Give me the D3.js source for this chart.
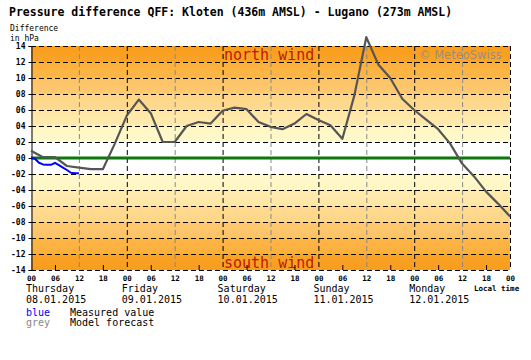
<!DOCTYPE html>
<html>
<head>
<meta charset="utf-8">
<script src="https://cdn.jsdelivr.net/npm/d3@7"></script>
<style>
  body { margin: 0; background: #fff; }
  svg { display: block; }
  text { font-family: "DejaVu Sans Mono", monospace; }
</style>
</head>
<body>
<div id="chart"></div>
<script>
// hours since Thursday 08.01.2015 00:00, model every 3 h
const modelHours = d3.range(0, 121, 3);
const modelValues = [0.9, 0.1, 0.1, -1.0, -1.2, -1.4, -1.4, 1.8, 5.3, 7.3,
  5.6, 2.0, 2.0, 4.0, 4.5, 4.3, 5.9, 6.3, 6.1, 4.5,
  3.9, 3.6, 4.3, 5.5, 4.75, 4.1, 2.4, 7.8, 15.1, 11.7,
  10.0, 7.4, 6.0, 4.8, 3.6, 1.8, -0.7, -2.3, -4.2, -5.7, -7.3];

// measured, hourly
const measuredHours = d3.range(0, 13);
const measuredValues = [0.0, -0.1, -0.6, -0.8, -0.85, -0.85, -0.6, -0.9, -1.2, -1.5, -1.85, -1.9, -1.9];

const dayNames = ["Thursday", "Friday", "Saturday", "Sunday", "Monday"];
const dayDates = ["08.01.2015", "09.01.2015", "10.01.2015", "11.01.2015", "12.01.2015"];
const hourTicks = d3.range(0, 121, 6);
const yTicks = d3.range(-14, 15, 2);

// band colours from |value| 2..14 (colour near zero, colour away from zero)
const bandColors = [
  ["#fff9cc", "#fff6c4"],
  ["#ffebb0", "#ffe6a4"],
  ["#fedb92", "#fed686"],
  ["#fdc972", "#fdc365"],
  ["#fcb748", "#fcaf3a"],
  ["#faa428", "#f99c1b"]
];

const W = 531, H = 360;
const svg = d3.select("#chart").append("svg")
  .attr("width", W).attr("height", H);

const x = d3.scaleLinear().domain([0, 120]).range([31, 510]);
const y = d3.scaleLinear().domain([-14, 14]).range([270, 46]);

// bands with a slight gradient
const defs = svg.append("defs");
bandColors.forEach((c, i) => {
  const lo = 2 + i * 2;
  // positive band: far colour on top
  let g = defs.append("linearGradient").attr("id", "gp" + i)
    .attr("x1", 0).attr("y1", 0).attr("x2", 0).attr("y2", 1);
  g.append("stop").attr("offset", 0).attr("stop-color", c[1]);
  g.append("stop").attr("offset", 1).attr("stop-color", c[0]);
  svg.append("rect")
    .attr("x", x(0)).attr("width", x(120) - x(0))
    .attr("y", y(lo + 2)).attr("height", y(lo) - y(lo + 2))
    .attr("fill", "url(#gp" + i + ")");
  // negative band: far colour at bottom
  g = defs.append("linearGradient").attr("id", "gn" + i)
    .attr("x1", 0).attr("y1", 0).attr("x2", 0).attr("y2", 1);
  g.append("stop").attr("offset", 0).attr("stop-color", c[0]);
  g.append("stop").attr("offset", 1).attr("stop-color", c[1]);
  svg.append("rect")
    .attr("x", x(0)).attr("width", x(120) - x(0))
    .attr("y", y(-lo)).attr("height", y(-lo - 2) - y(-lo))
    .attr("fill", "url(#gn" + i + ")");
});

// wind labels + watermark
svg.append("text").attr("x", 224).attr("y", 60)
  .attr("font-size", 15).attr("fill", "#b81c08").text("north wind");
svg.append("text").attr("x", 224).attr("y", 268)
  .attr("font-size", 15).attr("fill", "#b81c08").text("south wind");
svg.append("text").attr("x", 419).attr("y", 59)
  .style("font-family", "'DejaVu Sans', sans-serif")
  .attr("font-size", 11.5).attr("fill", "#8a8a8a").attr("fill-opacity", 0.85)
  .text("© MeteoSwiss");

// horizontal grid
svg.append("g").selectAll("line")
  .data(yTicks.filter(d => d !== 0))
  .join("line")
  .attr("x1", x(0)).attr("x2", x(120))
  .attr("y1", d => y(d) + 0.5).attr("y2", d => y(d) + 0.5)
  .attr("stroke", "#000").attr("stroke-dasharray", "5,3");

// vertical grid: black at 00, grey at 12
svg.append("g").selectAll("line")
  .data(d3.range(12, 121, 12))
  .join("line")
  .attr("x1", d => x(d) + 0.5).attr("x2", d => x(d) + 0.5)
  .attr("y1", y(14)).attr("y2", y(-14))
  .attr("stroke", d => d % 24 === 0 ? "#000" : "#888")
  .attr("stroke-dasharray", "5,3");

// small ticks at 06 / 18
svg.append("g").selectAll("line")
  .data(hourTicks.filter(d => d % 12 === 6))
  .join("line")
  .attr("x1", d => x(d) + 0.5).attr("x2", d => x(d) + 0.5)
  .attr("y1", y(-14) - 5).attr("y2", y(-14))
  .attr("stroke", "#000");

// zero line
svg.append("line")
  .attr("x1", x(0)).attr("x2", x(120))
  .attr("y1", y(0)).attr("y2", y(0))
  .attr("stroke", "#0a780a").attr("stroke-width", 3);

// left axis
const yAxis = d3.axisLeft(y).tickValues(yTicks).tickSize(3)
  .tickFormat(d => (d < 0 ? "-" : "") + d3.format("02d")(Math.abs(d)));
const ya = svg.append("g").attr("transform", "translate(" + (x(0) + 0.5) + ",0)").call(yAxis);
ya.select(".domain").attr("stroke", "#000");
ya.selectAll("text").attr("font-size", 8).attr("font-weight", "bold")
  .attr("fill", "#000").attr("dy", "0.35em").attr("x", -6);

// bottom axis labels
const xAxis = d3.axisBottom(x).tickValues(hourTicks).tickSize(0)
  .tickFormat(d => d3.format("02d")(d % 24));
const xa = svg.append("g").attr("transform", "translate(0,270)").call(xAxis);
xa.select(".domain").remove();
xa.selectAll("text").attr("font-size", 7.5).attr("font-weight", "bold")
  .attr("fill", "#000").attr("y", 11).attr("dy", 0);

// lines
const line = d3.line().x(d => x(d[0])).y(d => y(d[1]));
svg.append("path")
  .datum(d3.zip(modelHours, modelValues))
  .attr("d", line).attr("fill", "none")
  .attr("stroke", "#555").attr("stroke-width", 2.2).attr("stroke-linejoin", "round");
svg.append("path")
  .datum(d3.zip(measuredHours, measuredValues))
  .attr("d", line).attr("fill", "none")
  .attr("stroke", "#0000ff").attr("stroke-width", 2).attr("stroke-linejoin", "round");

// titles
svg.append("text").attr("x", 9).attr("y", 16)
  .attr("font-size", 11.5).attr("font-weight", "bold").attr("fill", "#000")
  .text("Pressure difference QFF: Kloten (436m AMSL) - Lugano (273m AMSL)");
svg.append("text").attr("x", 10).attr("y", 31).attr("font-size", 8).text("Difference");
svg.append("text").attr("x", 10).attr("y", 41).attr("font-size", 8).text("in hPa");

// day labels
svg.append("g").selectAll("text")
  .data(dayNames).join("text")
  .attr("x", (d, i) => x(i * 24) - 5).attr("y", 292)
  .attr("font-size", 10).text(d => d);
svg.append("g").selectAll("text")
  .data(dayDates).join("text")
  .attr("x", (d, i) => x(i * 24) - 5).attr("y", 302.5)
  .attr("font-size", 10).text(d => d);
svg.append("text").attr("x", 474).attr("y", 290.5)
  .attr("font-size", 7.5).attr("font-weight", "bold").text("Local time");

// legend
svg.append("text").attr("x", 26).attr("y", 316).attr("font-size", 10)
  .attr("fill", "#0000ff").text("blue");
svg.append("text").attr("x", 70).attr("y", 316).attr("font-size", 10).text("Measured value");
svg.append("text").attr("x", 26).attr("y", 326).attr("font-size", 10)
  .attr("fill", "#888").text("grey");
svg.append("text").attr("x", 70).attr("y", 326).attr("font-size", 10).text("Model forecast");
</script>
</body>
</html>
